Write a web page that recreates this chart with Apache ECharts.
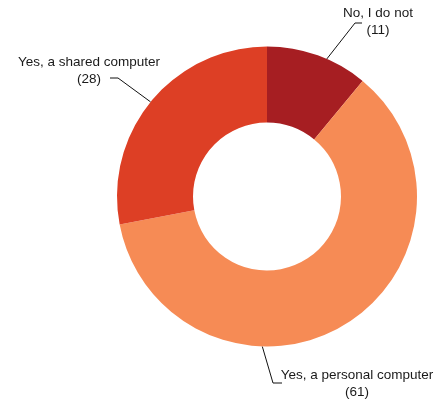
<!DOCTYPE html>
<html>
<head>
<meta charset="utf-8">
<script src="https://cdn.jsdelivr.net/npm/echarts@6/dist/echarts.min.js"></script>
<style>html,body{margin:0;padding:0;background:#fff}</style>
</head>
<body>
<div id="myChart" style="width:440px;height:400px"></div>
<script>
var categories = ['No, I do not', 'Yes, a personal computer', 'Yes, a shared computer'];
var values = [11, 61, 28];
var colors = ['#A61E22', '#F68B55', '#DD3F25'];

// where each label sits: text centre, elbow of the leader line, line end, angle it leaves the ring (deg clockwise from top)
var labelCenter = [[378, 22], [357, 384], [89, 71]];
var lineElbow = [[355, 23], [273, 383], [118, 78]];
var lineEnd = [[362, 23], [282, 383], [110, 78]];
var lineAngle = [23.5, 181.8, 309.1];

var cx = 267, cy = 196.5, rIn = 74, rOut = 150;

var myChart = echarts.init(document.getElementById('myChart'));

var data = [];
for (var i = 0; i < categories.length; i++) {
    data.push({ name: categories[i], value: values[i], itemStyle: { color: colors[i] } });
}

myChart.setOption({
    animation: false,
    series: [{
        type: 'pie',
        center: [cx, cy],
        radius: [rIn, rOut],
        startAngle: 90,
        clockwise: true,
        avoidLabelOverlap: false,
        itemStyle: { borderWidth: 0 },
        emphasis: { disabled: true },
        label: {
            show: true,
            formatter: '{b}\n({c})',
            fontFamily: 'Liberation Sans, Arial, sans-serif',
            fontSize: 13.5,
            lineHeight: 17,
            color: '#1a1a1a'
        },
        labelLine: {
            show: true,
            smooth: false,
            lineStyle: { color: '#111', width: 1 }
        },
        labelLayout: function (p) {
            var k = p.dataIndex;
            var a = lineAngle[k] * Math.PI / 180;
            var start = [cx + rOut * Math.sin(a), cy - rOut * Math.cos(a)];
            return {
                x: labelCenter[k][0],
                y: labelCenter[k][1],
                align: 'center',
                verticalAlign: 'middle',
                labelLinePoints: [start, lineElbow[k], lineEnd[k]]
            };
        },
        data: data
    }]
});
</script>
</body>
</html>
